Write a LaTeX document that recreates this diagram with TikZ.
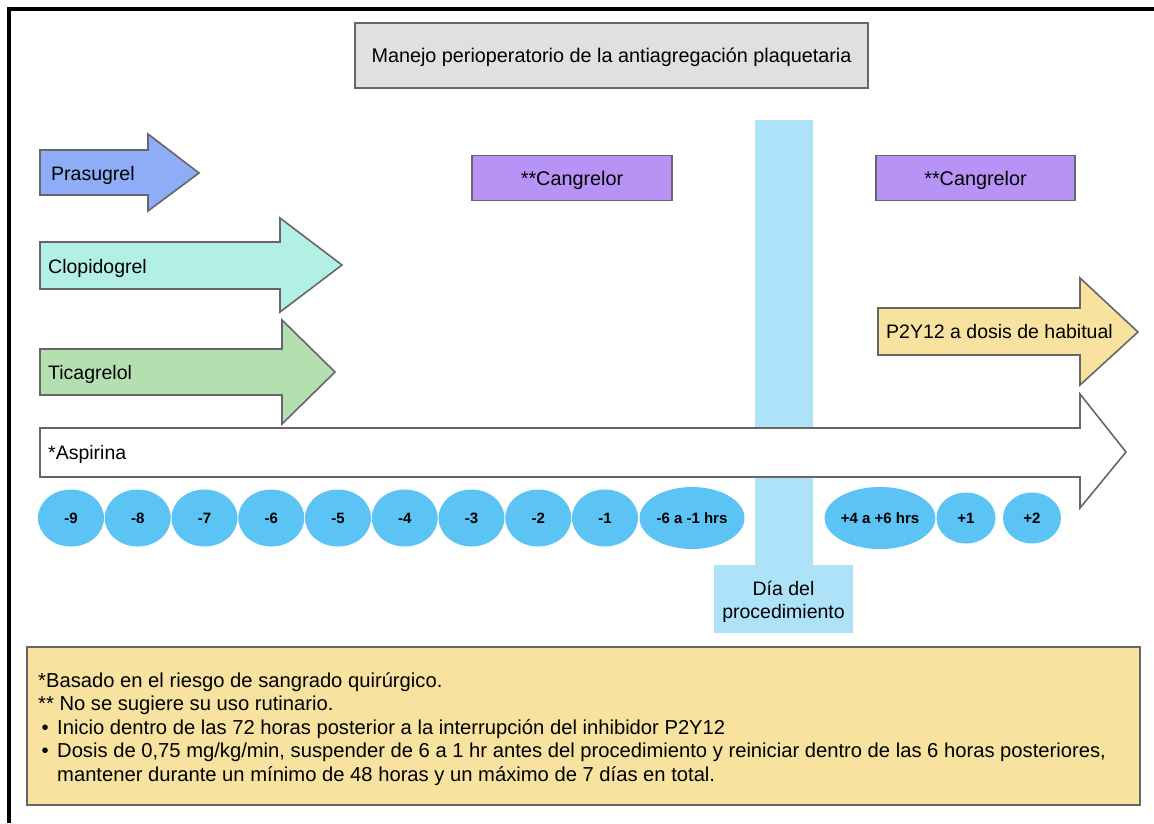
\documentclass[tikz,border=0pt]{standalone}
\usepackage{fontspec}
\setmainfont{Liberation Sans}
\usetikzlibrary{shapes.geometric}
\definecolor{borde}{HTML}{666666}
\definecolor{gris}{HTML}{E0E0E0}
\definecolor{prasu}{HTML}{8FACF6}
\definecolor{clopi}{HTML}{B2F0E6}
\definecolor{ticag}{HTML}{B4DFB1}
\definecolor{cangr}{HTML}{B793F6}
\definecolor{amar}{HTML}{F8E2A0}
\definecolor{celeste}{HTML}{AEE2F8}
\definecolor{elip}{HTML}{5CC4F5}

\begin{document}
\begin{tikzpicture}[x=1pt,y=-1pt,
    caja/.style={draw=borde,line width=1.6pt,text depth=0pt},
    flecha/.style={draw=borde,line width=1.6pt,line join=miter},
    etiq/.style={anchor=west,inner sep=0pt,text depth=0pt,font=\fontsize{19.5}{23}\selectfont},
    dia/.style={ellipse,fill=elip,inner sep=0pt,minimum width=66pt,minimum height=57pt,
        font=\bfseries\fontsize{15}{18}\selectfont}]
\useasboundingbox (0,0) rectangle (1154,823);
% Marco
\draw[line width=4pt] (9,823) -- (9,9) -- (1154,9);
% Titulo
\node[caja,fill=gris,minimum width=513pt,minimum height=65pt,font=\fontsize{19.8}{23}\selectfont]
    (titulo) at (611.5,55.5) {Manejo perioperatorio de la antiagregación plaquetaria};
% Dia del procedimiento
\fill[celeste] (755,120) rectangle (813,565) (714,565) rectangle (853,633);
\node[align=center,font=\fontsize{19.5}{22.5}\selectfont] (proc) at (783.5,602)
    {Día del\\procedimiento};
% Flechas
\draw[flecha,fill=prasu] (40,150) -- (148,150) -- (148,134) -- (199,173) -- (148,211)
    -- (148,195) -- (40,195) -- cycle;
\node[etiq] (prasugrel) at (51,173) {Prasugrel};
\draw[flecha,fill=clopi] (40,242) -- (280,242) -- (280,218) -- (342,265) -- (280,312)
    -- (280,289) -- (40,289) -- cycle;
\node[etiq] (clopidogrel) at (48,266) {Clopidogrel};
\draw[flecha,fill=ticag] (40,349) -- (282,349) -- (282,320) -- (335,372) -- (282,424)
    -- (282,395) -- (40,395) -- cycle;
\node[etiq] (ticagrelol) at (48,372) {Ticagrelol};
\draw[flecha,fill=white] (40,428) -- (1080,428) -- (1080,394) -- (1126,452) -- (1080,508)
    -- (1080,477) -- (40,477) -- cycle;
\node[etiq] (aspirina) at (48,452) {*Aspirina};
\draw[flecha,fill=amar] (878,308) -- (1080,308) -- (1080,278) -- (1138,332) -- (1080,385)
    -- (1080,355) -- (878,355) -- cycle;
\node[etiq] (p2y12) at (886,331) {P2Y12 a dosis de habitual};
% Cangrelor
\node[caja,fill=cangr,minimum width=200pt,minimum height=45pt,font=\fontsize{19.8}{23}\selectfont]
    (cangA) at (572,178) {**Cangrelor};
\node[caja,fill=cangr,minimum width=199pt,minimum height=45pt,font=\fontsize{19.8}{23}\selectfont]
    (cangB) at (975.5,178) {**Cangrelor};
% Dias
\foreach \d [count=\i] in {-9,-8,-7,-6,-5,-4,-3,-2,-1}
    \node[dia] (m\i) at (71+66.75*\i-66.75,518) {\d};
\node[dia,minimum width=105pt,minimum height=62pt] (horasA) at (692,518) {-6 a -1 hrs};
\node[dia,minimum width=104pt,minimum height=62pt] (horasB) at (880,518) {+4 a +6 hrs};
\node[dia,minimum width=59pt,minimum height=51pt] (p1) at (966,518) {+1};
\node[dia,minimum width=58pt,minimum height=51pt] (p2) at (1032,518) {+2};
% Notas
\draw[caja,fill=amar] (27,647) rectangle (1140,805);
\node[anchor=north west,inner sep=0pt,align=left,font=\fontsize{20.2}{23.6}\selectfont]
    (notas) at (38,672) {*Basado en el riesgo de sangrado quirúrgico.\\
    ** No se sugiere su uso rutinario.\\
    \makebox[19pt][l]{\,•}Inicio dentro de las 72 horas posterior a la interrupción del inhibidor P2Y12\\
    \makebox[19pt][l]{\,•}Dosis de 0,75 mg/kg/min, suspender de 6 a 1 hr antes del procedimiento y reiniciar dentro de las 6 horas posteriores,\\
    \hspace*{19pt}mantener durante un mínimo de 48 horas y un máximo de 7 días en total.};
\end{tikzpicture}
\end{document}
